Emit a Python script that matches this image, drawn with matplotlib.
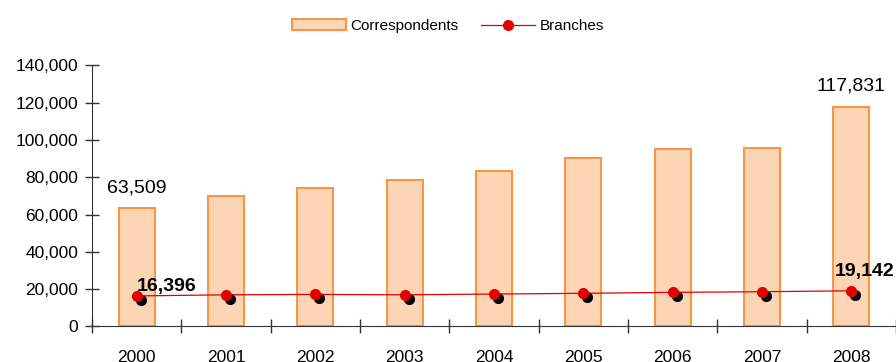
import numpy as np
import matplotlib
matplotlib.use("Agg")
import matplotlib.pyplot as plt
import matplotlib.transforms as mtransforms
from matplotlib.ticker import FuncFormatter

years = ["2000", "2001", "2002", "2003", "2004", "2005", "2006", "2007", "2008"]
correspondents = [63509, 69900, 74200, 78500, 83300, 90500, 95300, 96000, 117831]
branches = [16396, 16990, 17200, 17000, 17400, 17800, 18300, 18650, 19142]

plt.rcParams['font.family'] = ['Liberation Sans', 'DejaVu Sans']

fig = plt.figure(figsize=(8.96, 3.62), dpi=100)
ax = fig.add_axes([0.1027, 0.0981, 0.8973, 0.7210])

x = np.arange(len(years))
bars = ax.bar(x, correspondents, width=0.4, color="#FCD5B4", edgecolor="#F79646",
              linewidth=1.5, label="Correspondents", zorder=2)

# shadow dots, shifted a little right and down
shadow = mtransforms.offset_copy(ax.transData, fig=fig, x=4, y=-4, units='dots')
ax.plot(x, branches, 'o', color="black", markersize=7, transform=shadow, zorder=3)
line, = ax.plot(x, branches, '-o', color="#E00000", markersize=7, linewidth=0.9,
                label="Branches", zorder=4)

ax.set_xlim(-0.5, 8.5)
ax.set_ylim(0, 140000)
ax.set_yticks(np.arange(0, 140001, 20000))
ax.yaxis.set_major_formatter(FuncFormatter(lambda v, p: f"{int(v):,}"))

# tick marks on category boundaries, labels at centers
ax.set_xticks(np.arange(-0.5, 9, 1))
ax.set_xticklabels([])
ax.set_xticks(x, minor=True)
ax.set_xticklabels(years, minor=True)
ax.tick_params(axis='x', which='major', direction='inout', length=10, width=1, color="#333333")
ax.tick_params(axis='x', which='minor', length=0, pad=17, labelsize=12.5)
ax.tick_params(axis='y', direction='inout', length=10, width=1, color="#333333",
               labelsize=12.5, pad=5)

for s in ["top", "right"]:
    ax.spines[s].set_visible(False)
for s in ["left", "bottom"]:
    ax.spines[s].set_color("#333333")

ax.annotate(f"{correspondents[0]:,}", (x[0], correspondents[0]), xytext=(0, 8),
            textcoords="offset points", ha="center", va="bottom", fontsize=14)
ax.annotate(f"{correspondents[-1]:,}", (x[-1], correspondents[-1]), xytext=(0, 9),
            textcoords="offset points", ha="center", va="bottom", fontsize=14)
ax.annotate(f"{branches[0]:,}", (x[0], branches[0]), xytext=(0, 1),
            textcoords="offset points", ha="left", va="bottom", fontsize=14,
            fontweight="bold", zorder=5)
ax.annotate(f"{branches[-1]:,}", (x[-1], branches[-1]), xytext=(-12, 8),
            textcoords="offset points", ha="left", va="bottom", fontsize=14,
            fontweight="bold", zorder=5, annotation_clip=False)

fig.legend(handles=[bars, line], loc="upper center", bbox_to_anchor=(0.5, 0.985),
           ncol=2, frameon=False, fontsize=11, handlelength=3.5, columnspacing=1.5,
           handletextpad=0.3)

fig.savefig("out.png", dpi=100)
